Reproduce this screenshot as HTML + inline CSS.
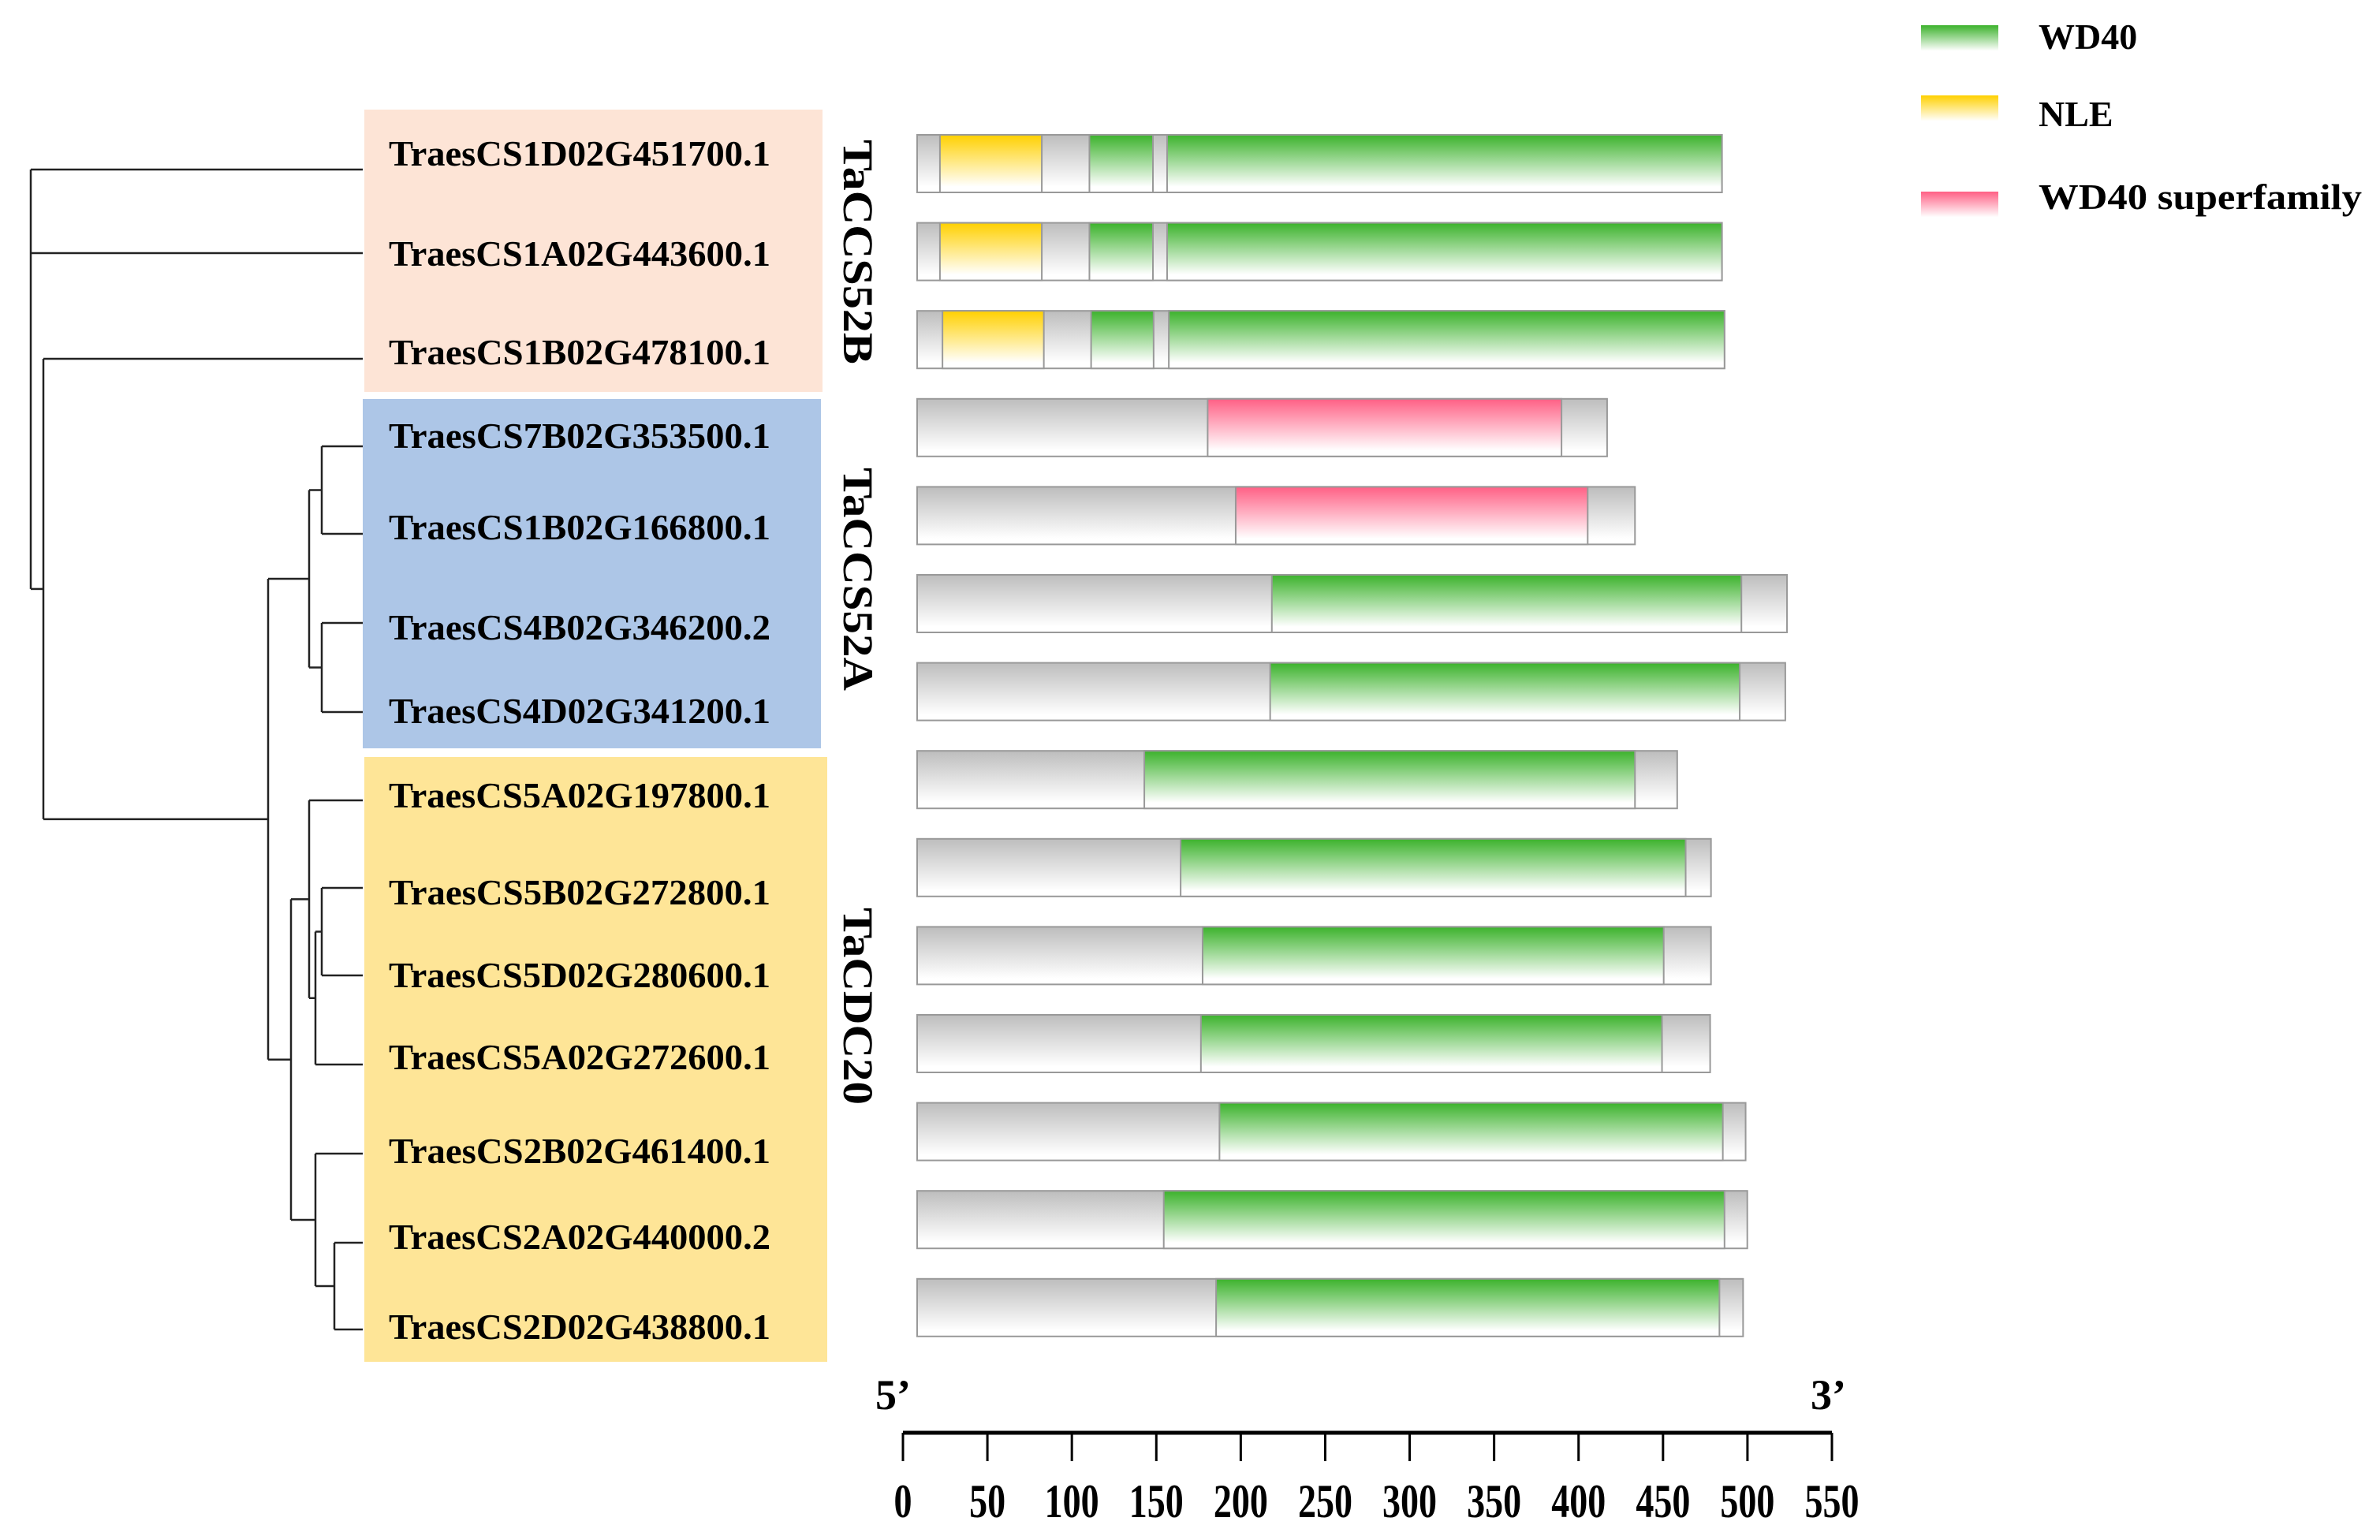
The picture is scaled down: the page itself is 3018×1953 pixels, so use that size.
<!DOCTYPE html>
<html><head><meta charset="utf-8"><style>
html,body{margin:0;padding:0;background:#fff;}
svg{display:block;}
text{font-family:"Liberation Serif",serif;font-weight:bold;fill:#000;}
</style></head><body>
<svg id="chart" width="3018" height="1953" viewBox="0 0 3018 1953" xmlns="http://www.w3.org/2000/svg">
<defs>
<linearGradient id="gGray" x1="0" y1="0" x2="0" y2="1"><stop offset="0" stop-color="#bdbdbd"/><stop offset="0.9" stop-color="#fff"/></linearGradient>
<linearGradient id="gGreen" x1="0" y1="0" x2="0" y2="1"><stop offset="0" stop-color="#3cb22c"/><stop offset="0.9" stop-color="#fff"/></linearGradient>
<linearGradient id="gYellow" x1="0" y1="0" x2="0" y2="1"><stop offset="0" stop-color="#ffd000"/><stop offset="0.9" stop-color="#fff"/></linearGradient>
<linearGradient id="gPink" x1="0" y1="0" x2="0" y2="1"><stop offset="0" stop-color="#ff6085"/><stop offset="0.9" stop-color="#fff"/></linearGradient>
</defs>
<g id="groups"></g>
<g id="tree" stroke="#222" stroke-width="2.5" fill="none"></g>
<g id="labels"></g>
<g id="bars"></g>
<g id="axis"></g>
<g id="legend"></g>
</svg>
<script>
const genes = ["TraesCS1D02G451700.1","TraesCS1A02G443600.1","TraesCS1B02G478100.1","TraesCS7B02G353500.1","TraesCS1B02G166800.1","TraesCS4B02G346200.2","TraesCS4D02G341200.1","TraesCS5A02G197800.1","TraesCS5B02G272800.1","TraesCS5D02G280600.1","TraesCS5A02G272600.1","TraesCS2B02G461400.1","TraesCS2A02G440000.2","TraesCS2D02G438800.1"];
const proteinLength = [476.5,476.5,478,408.5,425,515,514,450,470,470,469.5,490.5,491.5,489];
const nleStart = [13.5,13.5,15,null,null,null,null,null,null,null,null,null,null,null];
const nleEnd = [73.8,73.8,75,null,null,null,null,null,null,null,null,null,null,null];
const wdAStart = [102,102,103,null,null,210,209,134.5,156,169,168,179,146,177];
const wdAEnd = [139.6,139.6,140,null,null,488,487,425,455,442,441,477,478,475];
const wdBStart = [148,148,149,null,null,null,null,null,null,null,null,null,null,null];
const wdBEnd = [476.5,476.5,478,null,null,null,null,null,null,null,null,null,null,null];
const supStart = [null,null,null,172,188.6,null,null,null,null,null,null,null,null,null];
const supEnd = [null,null,null,381.5,397,null,null,null,null,null,null,null,null,null];
const ticks = [0,50,100,150,200,250,300,350,400,450,500,550];
const labelY = [194,321,446,552,668,795,901,1008,1131,1236,1340,1459,1568,1682];

const NS="http://www.w3.org/2000/svg";
function mk(tag,attrs,parent){const e=document.createElementNS(NS,tag);for(const k in attrs)e.setAttribute(k,attrs[k]);parent.appendChild(e);return e;}
const axisX0=1145, axisX1=2323;
const pxPerAA=(axisX1-axisX0)/550;
const barX0=1163;
function bx(v){return barX0+v*pxPerAA;}
function ax(v){return axisX0+v*pxPerAA;}
const barTop0=171, barStep=111.6, barH=73;
function by(i){return barTop0+i*barStep;}

const G=document.getElementById('groups');
let r;
r=mk('rect',{x:462,y:139,width:581,height:358,fill:'#fde4d6'},G);


r=mk('rect',{x:460,y:506,width:581,height:443,fill:'#adc6e7'},G);


r=mk('rect',{x:462,y:960,width:587,height:767,fill:'#fee597'},G);



const T=document.getElementById('tree');
const tipX=460;
const tipY=[215,321,455,566,677,790,903,1015,1126,1237,1350,1463,1576,1686];
function seg(x1,y1,x2,y2){const p=mk('line',{x1:x1,y1:y1,x2:x2,y2:y2},T);}
function node(x,yA,yB,xA,xB){seg(x,yA,x,yB);seg(x,yA,xA,yA);seg(x,yB,xB,yB);}
node(408,tipY[3],tipY[4],tipX,tipX); const c1=(tipY[3]+tipY[4])/2;
node(408,tipY[5],tipY[6],tipX,tipX); const c2=(tipY[5]+tipY[6])/2;
node(392,c1,c2,408,408); const cC=(c1+c2)/2;
node(408,tipY[8],tipY[9],tipX,tipX); const e3=(tipY[8]+tipY[9])/2;
node(400,e3,tipY[10],408,tipX); const e2=(e3+tipY[10])/2;
node(392,tipY[7],e2,tipX,400); const eE=(tipY[7]+e2)/2;
node(424,tipY[12],tipY[13],tipX,tipX); const gG=(tipY[12]+tipY[13])/2;
node(400,tipY[11],gG,tipX,424); const fF=(tipY[11]+gG)/2;
node(369,eE,fF,392,400); const dD=(eE+fF)/2;
node(340,cC,dD,392,369); const bB=(cC+dD)/2;
node(55,tipY[2],bB,tipX,340); const aA=(tipY[2]+bB)/2;
seg(39,tipY[0],39,aA); seg(39,tipY[0],tipX,tipY[0]); seg(39,tipY[1],tipX,tipY[1]); seg(39,aA,55,aA);

const L=document.getElementById('labels');
genes.forEach((g,i)=>{
  const t=mk('text',{x:493,y:labelY[i]+16,'font-size':46,textLength:484,lengthAdjust:'spacingAndGlyphs'},L);
  t.textContent=g;
  
  
});
const groupNames=[["TaCCS52B",177,462],["TaCCS52A",593,876],["TaCDC20",1151,1401]];
groupNames.forEach(([n,y1,y2])=>{
  const cy=(y1+y2)/2;
  const t=mk('text',{x:0,y:0,'font-size':54,'text-anchor':'middle',textLength:(y2-y1),lengthAdjust:'spacingAndGlyphs',transform:`translate(1070,${cy}) rotate(90)`},L);
  t.textContent=n;
  
  
});

const B=document.getElementById('bars');
function dom(i,s,e,fill,name){
  if(s==null)return;
  const rr=mk('rect',{x:bx(s),y:by(i),width:bx(e)-bx(s),height:barH,fill:fill,stroke:'#999','stroke-width':2},B);
  
  
}
genes.forEach((g,i)=>{
  dom(i,0,proteinLength[i],'url(#gGray)','protein-bar');
  dom(i,nleStart[i],nleEnd[i],'url(#gYellow)','nle-domain');
  dom(i,wdAStart[i],wdAEnd[i],'url(#gGreen)','wd40-domain');
  dom(i,wdBStart[i],wdBEnd[i],'url(#gGreen)','wd40-domain');
  dom(i,supStart[i],supEnd[i],'url(#gPink)','wd40-superfamily-domain');
});

const A=document.getElementById('axis');
let ln=mk('line',{x1:axisX0,y1:1817,x2:axisX1,y2:1817,stroke:'#000','stroke-width':5},A);


ticks.forEach(v=>{
  const tk=mk('line',{x1:ax(v),y1:1817,x2:ax(v),y2:1853,stroke:'#000','stroke-width':3},A);
  
  
  const s=String(v);
  const t=mk('text',{x:ax(v),y:1924,'font-size':60,'text-anchor':'middle',textLength:s.length*23,lengthAdjust:'spacingAndGlyphs'},A);
  t.textContent=s;
  
  
});
let t5=mk('text',{x:1110,y:1787,'font-size':54},A); t5.textContent="5’";


let t3=mk('text',{x:2296,y:1787,'font-size':54},A); t3.textContent="3’";



const LG=document.getElementById('legend');
const legItems=[["WD40","url(#gGreen)",32,62,null],["NLE","url(#gYellow)",121,160,null],["WD40 superfamily","url(#gPink)",243,265,410]];
legItems.forEach(([n,f,y,base,w])=>{
  const s=mk('rect',{x:2436,y:y,width:98,height:36,fill:f},LG);
  
  
  const a={x:2585,y:base,'font-size':46};
  if(w){a.textLength=w;a.lengthAdjust='spacingAndGlyphs';}
  const t=mk('text',a,LG);
  t.textContent=n;
  
  
});
</script>
</body></html>
